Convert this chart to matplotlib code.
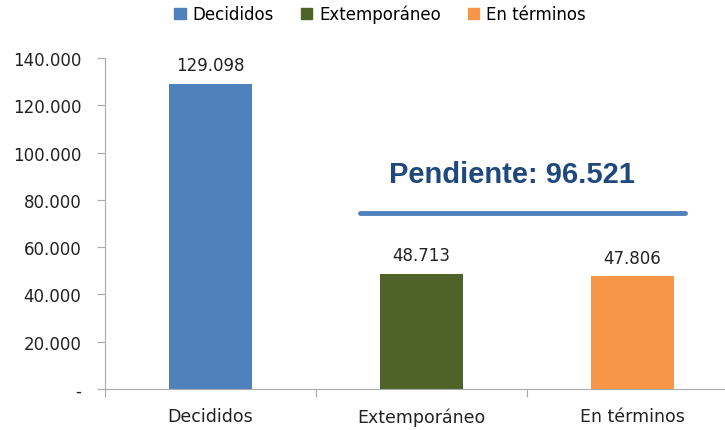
import matplotlib
matplotlib.use("Agg")
import matplotlib.pyplot as plt
from matplotlib.patches import Patch

categories = ["Decididos", "Extemporáneo", "En términos"]
values = [129098, 48713, 47806]
colors = ["#4F81BD", "#4F6228", "#F79646"]
yticks = [0, 20000, 40000, 60000, 80000, 100000, 120000, 140000]
pendiente = 96521

narrow = ["Liberation Sans Narrow", "DejaVu Sans"]
plt.rcParams["font.family"] = ["DejaVu Sans"]


def fmt(v):
    if v == 0:
        return "-"
    return f"{v:,}".replace(",", ".")


fig = plt.figure(figsize=(7.25, 4.31), dpi=100)
ax = fig.add_axes([105 / 725, 1 - 390 / 431, 633 / 725, 331 / 431])

x = list(range(len(categories)))
ax.bar(x, values, width=0.39, color=colors, zorder=2)
for xi, v in zip(x, values):
    ax.text(xi, v + 4000, fmt(v), ha="center", va="bottom", fontsize=12,
            color="#222222")

ax.set_xlim(-0.5, 2.5)
ax.set_ylim(0, 140000)
ax.set_yticks(yticks)
ax.set_yticklabels([fmt(t) for t in yticks], fontsize=12, color="#222222")
ax.set_xticks([-0.5, 0.5, 1.5, 2.5])
ax.set_xticklabels([])
ax.set_xticks(x, minor=True)
ax.set_xticklabels(categories, minor=True, fontsize=12.5, family=narrow, color="#222222")
ax.tick_params(axis="x", which="major", length=6, color="#AAAAAA", direction="out")
ax.tick_params(axis="x", which="minor", length=0, pad=13)
ax.tick_params(axis="y", length=6, color="#AAAAAA", pad=11)

for s in ["top", "right"]:
    ax.spines[s].set_visible(False)
for s in ["left", "bottom"]:
    ax.spines[s].set_color("#AAAAAA")

# annotation for pending total
ax.plot([0.71, 2.25], [74400, 74400], color="#4F81BD", linewidth=3.5,
        solid_capstyle="round", clip_on=False, zorder=3)
ax.text(1.43, 91000, f"Pendiente: {fmt(pendiente)}", ha="center", va="center",
        fontsize=21, fontweight="bold", color="#1F497D", family="Liberation Sans")

handles = [Patch(color=c) for c in colors]
fig.legend(handles, categories, loc="center", bbox_to_anchor=(380 / 725, 1 - 15 / 431),
           ncol=3, frameon=False, prop={"family": narrow, "size": 12},
           handlelength=0.7, handleheight=0.7, handletextpad=0.4, columnspacing=1.6)

fig.savefig("out.png", dpi=100)
